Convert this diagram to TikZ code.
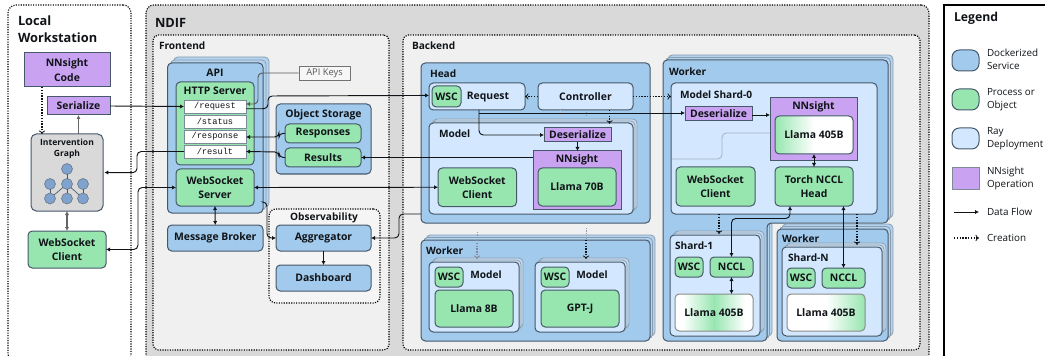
\documentclass[tikz,border=0pt]{standalone}
\usepackage{fontspec}
\setmainfont{Open Sans}
\newfontfamily\monofam{Liberation Mono}
\usetikzlibrary{arrows.meta,calc}
\definecolor{blu}{HTML}{A2CAEC}
\definecolor{blc}{HTML}{B4D3EE}
\definecolor{grn}{HTML}{97E6B0}
\definecolor{ray}{HTML}{D3E8FE}
\definecolor{rac}{HTML}{C8DDF2}
\definecolor{pur}{HTML}{C9A3F1}
\definecolor{bord}{HTML}{46586A}
\definecolor{ink}{HTML}{101418}
\definecolor{cop}{HTML}{8A9DB0}
\definecolor{gcol}{HTML}{7FA3CE}
\pgfdeclarehorizontalshading{gwr}{100bp}{color(0bp)=(grn); color(25bp)=(grn); color(50bp)=(white); color(100bp)=(white)}
\pgfdeclarehorizontalshading{wgw}{100bp}{color(0bp)=(white); color(30bp)=(white); color(50bp)=(grn); color(70bp)=(white); color(100bp)=(white)}
\pgfdeclarehorizontalshading{wgr}{100bp}{color(0bp)=(white); color(50bp)=(white); color(75bp)=(grn); color(100bp)=(grn)}
\newcommand{\flab}{\fontsize{7.8}{10.7}\selectfont\bfseries}
\newcommand{\fhead}{\fontsize{7.6}{9}\selectfont\bfseries}
\newcommand{\ftitle}{\fontsize{9.6}{12.8}\selectfont\bfseries}
\newcommand{\fleg}{\fontsize{7.4}{9.8}\selectfont}
\tikzset{
  x=0.75pt,y=-0.75pt,
  bxbase/.style={draw=bord,line width=.75pt,rounded corners=3.2pt,inner sep=0,outer sep=0,align=center,font=\flab,text=ink},
  blueb/.style={bxbase,fill=blu},
  greenb/.style={bxbase,fill=grn},
  rayb/.style={bxbase,fill=ray},
  greyb/.style={bxbase,fill=black!15},
  purpb/.style={bxbase,fill=pur,rounded corners=0pt},
  endb/.style={draw=bord!70,line width=.6pt,fill=white,inner sep=0,outer sep=0,font=\monofam\fontsize{6.5}{8}\selectfont,text=ink},
  zone/.style={draw=black,line width=.85pt,densely dotted,rounded corners=6pt},
  blucopy/.style={draw=cop,line width=.6pt,fill=blc,rounded corners=3.2pt},
  raycopy/.style={draw=cop,line width=.6pt,fill=rac,rounded corners=3.2pt},
  txt/.style={inner sep=0,outer sep=0,text=ink,align=left},
  head/.style={txt,font=\fhead},
  ctr/.style={inner sep=0,outer sep=0,text=ink,font=\flab},
  title/.style={txt,font=\ftitle},
  leg/.style={txt,font=\fleg,anchor=west},
  flow/.style={draw=ink,line width=.7pt,rounded corners=3.2pt,-{Latex[length=3pt,width=3.2pt]}},
  flowb/.style={draw=ink,line width=.7pt,rounded corners=3.2pt,{Latex[length=3pt,width=3.2pt]}-{Latex[length=3pt,width=3.2pt]}},
  create/.style={draw=ink,line width=.8pt,dash pattern=on 1.1pt off 1pt,-{To[length=2.6pt,width=4.6pt,line width=.6pt]}},
  gnode/.style={circle,draw=bord!80,line width=.5pt,fill=gcol,minimum size=8.2pt,inner sep=0,outer sep=0},
}
\newcommand{\bx}[7]{\node[#1,minimum width={(#5-#3)*0.75pt},minimum height={(#6-#4)*0.75pt}] (#2) at ({(#3+#5)/2},{(#4+#6)/2}) {#7};}
\newcommand{\stk}[6]{%
  \draw[#1] ({#2+2*#6},{#3-2*#6}) rectangle ({#4+2*#6},{#5-2*#6});
  \draw[#1] ({#2+#6},{#3-#6}) rectangle ({#4+#6},{#5-#6});}
\begin{document}
\begin{tikzpicture}
\useasboundingbox (0,0) rectangle (1045,356);
\fill[white] (0,0) rectangle (1045,356);
% zones
\bx{zone,fill=white}{local}{8}{5}{131}{362}{}
\node[title,anchor=west] (localt) at (18,21) {Local};
\node[title,anchor=west] (localw) at (18,38) {Workstation};
\bx{zone,fill=black!15}{ndif}{146}{5}{929}{362}{}
\node[title,anchor=west] (ndift) at (155,23) {NDIF};
\bx{zone,fill=black!6,rounded corners=4pt}{front}{153}{35}{389}{350}{}
\node[head,anchor=west] (frontt) at (159,46) {Frontend};
\bx{zone,fill=black!6,rounded corners=4pt}{back}{403}{35}{920}{350}{}
\node[head,anchor=west] (backt) at (412,46) {Backend};
\bx{draw=black,line width=1.1pt,fill=white,inner sep=0}{legend}{944}{5}{1050}{362}{}
% local
\bx{purpb}{code}{24}{53}{110}{87}{NNsight\\Code}
\bx{purpb}{serial}{47}{97}{110}{115}{Serialize}
\bx{greyb,rounded corners=4pt}{graph}{31}{134}{103}{211}{}
\node[ctr,font=\fontsize{6.4}{8.5}\selectfont\bfseries,align=center] (grapht) at (67,149) {Intervention\\Graph};
\node[gnode] (g0) at (67,169) {};
\node[gnode] (g1) at (50,184) {};
\node[gnode] (g2) at (67,184) {};
\node[gnode] (g3) at (83,184) {};
\node[gnode] (g4) at (50,198.5) {};
\node[gnode] (g5) at (67,198.5) {};
\node[gnode] (g6) at (83,198.5) {};
\foreach \a/\b in {g0/g2,g1/g4,g2/g5,g2/g4,g2/g6,g3/g6} \draw[draw=bord,line width=.5pt] (\a) -- (\b);
\bx{greenb}{wsclocal}{28}{231}{106}{268}{WebSocket\\Client}
% API stack
\stk{blucopy}{167.5}{63}{263}{213}{3}
\bx{blueb}{api}{167.5}{63}{263}{213}{}
\node[ctr] (apit) at (215,73) {API};
\bx{greenb}{http}{176}{82}{254}{165}{}
\node[ctr] (httpt) at (215,91) {HTTP Server};
\bx{endb}{req}{184}{100}{246}{113}{/request}
\bx{endb}{status}{184}{115}{246}{128}{/status}
\bx{endb}{resp}{184}{130}{246}{143}{/response}
\bx{endb}{result}{184}{145}{246}{158}{/result}
\bx{greenb}{wss}{176}{169}{254}{206}{WebSocket\\Server}
\bx{blueb}{broker}{167.5}{225}{263}{251}{Message Broker}
\bx{draw=black!55,line width=.6pt,fill=black!3,inner sep=0,font=\fontsize{7}{9}\selectfont,text=black!65}{keys}{299}{66}{350}{80}{API Keys}
% object storage
\bx{blueb}{store}{276}{104}{371}{174}{}
\node[ctr] (storet) at (323.5,114.5) {Object Storage};
\bx{greenb}{respo}{285}{124}{361}{143}{Responses}
\bx{greenb}{resu}{285}{148}{361}{167}{Results}
% observability
\bx{zone,fill=black!4,rounded corners=5pt}{obs}{269}{209}{380}{303}{}
\node[ctr,font=\fhead] (obst) at (324,217.5) {Observability};
\bx{blueb}{agg}{276}{225}{371}{251}{Aggregator}
\bx{blueb}{dash}{276}{265}{371}{291}{Dashboard}
% head
\bx{blueb}{headb}{421}{63}{650}{223}{}
\node[head,anchor=west] (headt) at (430,74) {Head};
\bx{rayb}{request}{429}{83}{525}{110}{}
\bx{greenb}{wsch}{432}{86}{461}{107}{WSC}
\node[ctr] (requestt) at (488,97) {Request};
\bx{rayb}{ctrl}{538}{83}{633}{110}{Controller}
\stk{raycopy}{429}{123}{633}{214}{2}
\bx{rayb}{modelh}{429}{123}{633}{214}{}
\node[head,anchor=west] (modelt) at (439,134) {Model};
\bx{purpb}{deser}{544}{128}{611}{142}{Deserialize}
\bx{greenb}{wsmh}{438}{168}{516.5}{206.5}{WebSocket\\Client}
\bx{purpb}{nnh}{533}{151}{621}{209}{}
\node[ctr] (nnht) at (577,159.5) {NNsight};
\bx{greenb}{l70}{538}{168}{616}{206}{Llama 70B}
% worker left
\stk{blucopy}{421}{240}{650}{341}{2.5}
\bx{blueb}{wl}{421}{240}{650}{341}{}
\node[head,anchor=west] (wlt) at (426,251) {Worker};
\stk{raycopy}{429}{262}{519}{332}{2}
\bx{rayb}{m1}{429}{262}{519}{332}{}
\node[ctr,font=\fhead] (m1t) at (486,274.5) {Model};
\bx{greenb}{wsc1}{435}{267}{463}{287}{WSC}
\bx{greenb}{l8}{435}{290}{513}{327}{Llama 8B}
\stk{raycopy}{535}{262}{625}{332}{2}
\bx{rayb}{m2}{535}{262}{625}{332}{}
\node[ctr,font=\fhead] (m2t) at (592,274.5) {Model};
\bx{greenb}{wsc2}{541}{267}{569}{287}{WSC}
\bx{greenb}{gptj}{541}{290}{619}{327}{GPT-J}
% big worker
\foreach \d/\c in {5/blucopy,2.5/blucopy}{
  \draw[\c] ({663+\d},{60-\d}) -- ({888+\d},{60-\d}) -- ({888+\d},{223-\d}) -- ({767+\d},{223-\d}) -- ({767+\d},{341-\d}) -- ({663+\d},{341-\d}) -- cycle;}
\draw[draw=bord,line width=.75pt,fill=blu,rounded corners=3.2pt] (663,60) -- (888,60) -- (888,223) -- (767,223) -- (767,341) -- (663,341) -- cycle;
\node[head,anchor=west] (wbt) at (669,71.5) {Worker};
\bx{rayb}{m0}{671}{83}{877}{214}{}
\node[head,anchor=west] (m0t) at (680,95) {Model Shard-0};
\bx{purpb}{deser0}{685}{107}{752}{121}{Deserialize}
\bx{purpb}{nn0}{770}{98}{857}{161}{}
\node[ctr] (nn0t) at (813.5,106.5) {NNsight};
\bx{greenb,shade,shading=gwr}{l405}{775}{116}{853}{154}{Llama 405B}
\bx{greenb}{wsm0}{676}{167}{755}{206}{WebSocket\\Client}
\bx{greenb}{torch}{775}{167}{853}{206}{Torch NCCL\\Head}
\stk{raycopy}{670}{235}{760}{336}{2}
\bx{rayb}{s1}{670}{235}{760}{336}{}
\node[head,anchor=west] (s1t) at (675,246) {Shard-1};
\bx{greenb}{wscs1}{675}{257}{703}{277}{WSC}
\bx{greenb}{ncs1}{710}{257}{753}{277}{NCCL}
\bx{greenb,draw=black!45,shade,shading=wgw}{ls1}{675}{294}{753}{331}{Llama 405B}
% worker N
\stk{blucopy}{777}{229}{888}{341}{2.5}
\bx{blueb}{wn}{777}{229}{888}{341}{}
\node[head,anchor=west] (wnt) at (782,238.5) {Worker};
\stk{raycopy}{782}{247}{882}{336}{2}
\bx{rayb}{sn}{782}{247}{882}{336}{}
\node[head,anchor=west] (snt) at (788,258) {Shard-N};
\bx{greenb}{wscsn}{787}{268}{815}{288}{WSC}
\bx{greenb}{ncsn}{822}{268}{865}{288}{NCCL}
\bx{greenb,draw=black!45,shade,shading=wgr}{lsn}{787}{294}{865}{331}{Llama 405B}
% legend
\node[title,anchor=west,font=\fontsize{9.2}{12}\selectfont\bfseries] (legt) at (954,18) {Legend};
\bx{blueb,rounded corners=5.5pt}{lg1}{952}{50}{979}{71}{}
\bx{greenb,rounded corners=5.5pt}{lg2}{952}{89}{979}{110}{}
\bx{rayb,rounded corners=5.5pt}{lg3}{952}{128}{979}{149}{}
\bx{purpb,draw=bord!70}{lg4}{952}{168}{979}{189}{}
\node[leg] (lt1) at (987,59.5) {Dockerized\\Service};
\node[leg] (lt2) at (987,99.5) {Process or\\Object};
\node[leg] (lt3) at (987,139) {Ray\\Deployment};
\node[leg] (lt4) at (987,178.5) {NNsight\\Operation};
\node[leg] (lt5) at (987,212) {Data Flow};
\node[leg] (lt6) at (987,238) {Creation};
\coordinate (lf1) at (954,212); \coordinate (lf2) at (979,212);
\coordinate (lc1) at (954,238); \coordinate (lc2) at (979,238);
\draw[flow] (lf1) -- (lf2);
\draw[create] (lc1) -- (lc2);
% connectors: creation
\draw[create] ([xshift=-18.75pt]code.south) -- ([xshift=-18.75pt]graph.north);
\draw[create] (ctrl.west) -- (request.east);
\draw[create] (ctrl.east) -- (m0.west |- ctrl.east);
\draw[create] ([xshift=18pt]ctrl.south) -- ([xshift=18pt,yshift=-.6pt]ctrl.south |- modelh.north);
\coordinate (h1) at (586,110); \coordinate (h2) at (586,116);
\coordinate (h3) at (560,110); \coordinate (h4) at (560,116);
\draw[draw=cop,line width=.75pt,dash pattern=on .9pt off .9pt] (h1) -- (h2);
\draw[draw=cop!60,line width=.75pt,dash pattern=on .9pt off .9pt] (h3) -- (h4);
\coordinate (c1) at (477,232); \coordinate (c2) at (477,240); \coordinate (c3) at (477,259);
\coordinate (c4) at (586,228); \coordinate (c5) at (586,240); \coordinate (c6) at (586,259);
\draw[draw=cop,line width=.75pt,dash pattern=on .9pt off .9pt] (c1) -- (c2);
\draw[create,draw=bord!70] (c2) -- (c3);
\draw[draw=cop,line width=.75pt,dash pattern=on .9pt off .9pt] (c4) -- (c5);
\draw[create] (c5) -- (c6);
\coordinate (s1a) at (719,214); \coordinate (s1b) at (719,234);
\draw[create] (s1a) -- (s1b);
\coordinate (z1) at (857,214); \coordinate (z2) at (857,245);
\draw[create] (z1) -- (z2);
% connectors: data flow
\draw[flow] (serial.east) -- (req.west);
\draw[flow,draw=black!60,line width=1pt] (graph.north -| serial.south) -- (serial.south);
\draw[flowb,draw=black!60,line width=1pt] (graph.south) -- (wsclocal.north -| graph.south);
\draw[flow] ([yshift=-1.7pt]req.east) -- (268,108.7) -- (268,96) -- ([yshift=.8pt]request.west);
\draw[flow,draw=black!65] (keys.west) -- (258,73) -- (258,104) -- ([yshift=1.9pt]req.east);
\draw[flow] (respo.west) -- (279,133) -- (279,137) -- (resp.east |- 0,137);
\draw[flow] (resu.west) -- (279,157.5) -- (279,152) -- (result.east);
\draw[flow] (result.west) -- (137,151.5) -- (137,172.7) -- ([xshift=1pt,yshift=0pt]graph.east);
\draw[flowb] (wss.west) -- (138,187.5) -- (138,249.5) -- (wsclocal.east);
\draw[flowb] (wss.east) -- (wsmh.west);
\draw[flowb] (wss.south) -- (broker.north);
\draw[flow] (263,202) -- (267,202) -- (267,238) -- (agg.west);
\draw[flow] (headb.west |- 0,214) -- (399,214) -- (399,238) -- (agg.east);
\draw[flow] (agg.south) -- (dash.north);
\draw[flow] (nnh.west |- resu.east) -- (resu.east);
\draw[flow] (request.south -| 479,0) -- (479,135) -- (deser.west);
\draw[flow,line width=.6pt] (479,113) -- (deser0.west |- 0,113);
\draw[flow] (deser.south) -- (deser.south |- nnh.north);
\draw[flow] (deser0.east |- 0,115) -- (nn0.west |- 0,115);
\draw[flowb] (l405.south) -- (torch.north);
\draw[flowb] (ncs1.north) -- (ncs1.north |- 0,218.5) -- (790,218.5) -- (torch.south -| 790,0);
\draw[flowb] (torch.south -| ncsn.north) -- (ncsn.north);
\draw[flowb] (ncs1.south) -- (ls1.north -| ncs1.south);
% faded connector
\coordinate (fa) at (722,133);
\coordinate (fb) at (722,159);
\coordinate (fc) at (672,159);
\draw[draw=cop!80,line width=.6pt,rounded corners=3.2pt] (nn0.west |- fa) -- (fa) -- (fb) -- (fc);
\end{tikzpicture}
\end{document}
